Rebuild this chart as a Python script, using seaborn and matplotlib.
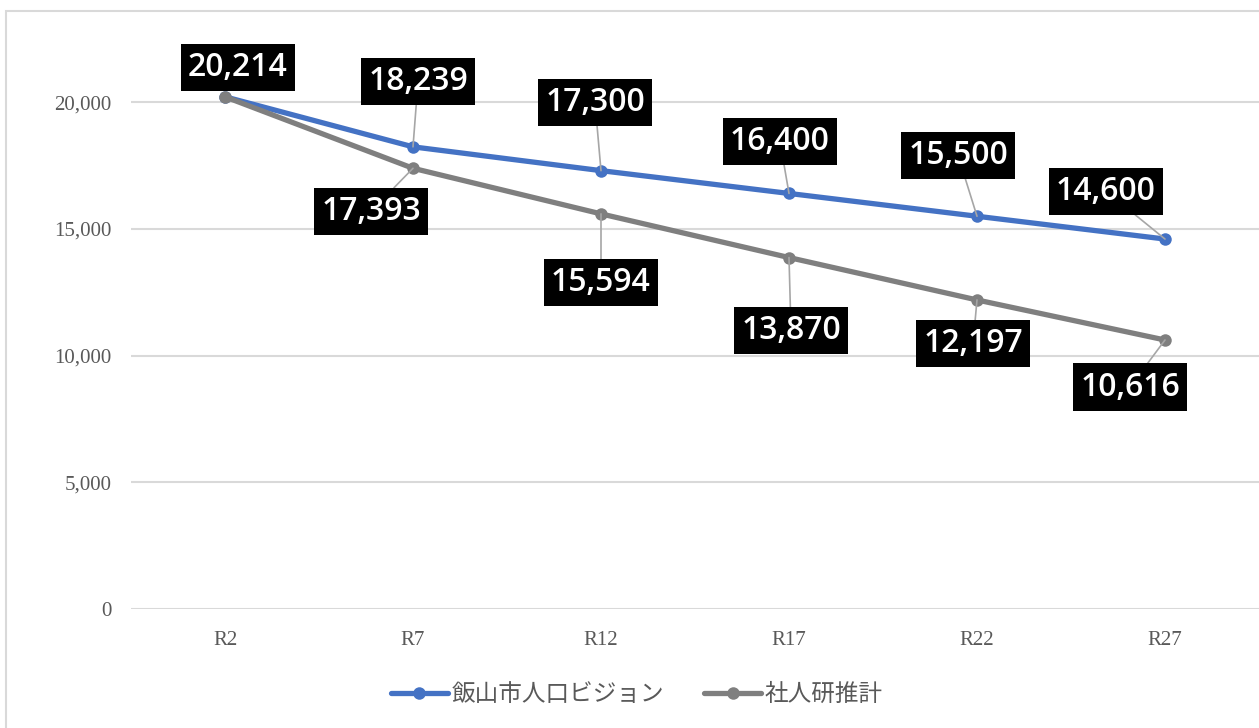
import matplotlib
matplotlib.use("Agg")
import matplotlib.pyplot as plt
from matplotlib.patches import Rectangle
from matplotlib.lines import Line2D
from matplotlib.ticker import FuncFormatter
import seaborn as sns
import pandas as pd

# data
years = ["R2", "R7", "R12", "R17", "R22", "R27"]
vision = [20214, 18239, 17300, 16400, 15500, 14600]
ipss = [20214, 17393, 15594, 13870, 12197, 10616]
series_names = ["飯山市人口ビジョン", "社人研推計"]
colors = {"飯山市人口ビジョン": "#4472C4", "社人研推計": "#7F7F7F"}

# label offsets in pixels (dx, dy) from each point, None = no label
vision_off = [(13, 29), (5, 65), (-6, 68), (-9, 52), (-19, 61), (-59, 48)]
ipss_off = [None, (-42, -43), (0, -69), (2, -73), (-4, -44), (-35, -47)]

df = pd.DataFrame({
    "year": years * 2,
    "value": vision + ipss,
    "series": [series_names[0]] * 6 + [series_names[1]] * 6,
})

sns.set_theme(style="white")
serif = ["Liberation Serif", "Noto Sans CJK JP"]
label_font = ["Open Sans", "DejaVu Sans"]

W, H = 1259, 728
fig = plt.figure(figsize=(W / 100, H / 100), dpi=100)
ax = fig.add_axes([131 / W, 1 - 609 / H, 1 - 131 / W, (609 - 11) / H])

sns.lineplot(data=df, x="year", y="value", hue="series", hue_order=series_names,
             palette=colors, marker="o", markersize=9, markeredgewidth=0,
             linewidth=3.8, legend=False, ax=ax, sort=False)

ax.set_xlim(-0.5, 5.5)
ax.set_ylim(0, 23600)
ax.set_yticks([0, 5000, 10000, 15000, 20000])
ax.yaxis.set_major_formatter(FuncFormatter(lambda v, p: f"{int(v):,}"))
ax.grid(axis="y", color="#D9D9D9", linewidth=1.5)
ax.set_axisbelow(True)
for s in ax.spines.values():
    s.set_visible(False)
ax.set_xlabel("")
ax.set_ylabel("")
ax.tick_params(axis="both", length=0, labelcolor="#595959", labelsize=15, pad=14)
ax.tick_params(axis="x", pad=16)
for t in ax.get_xticklabels() + ax.get_yticklabels():
    t.set_family(serif)

# data labels
for vals, offs in [(vision, vision_off), (ipss, ipss_off)]:
    for i, (v, off) in enumerate(zip(vals, offs)):
        if off is None:
            continue
        arrow = dict(arrowstyle="-", color="#A6A6A6", lw=1.2, shrinkA=0, shrinkB=0)
        ax.annotate(f"{v:,}", xy=(i, v), xytext=off, textcoords="offset pixels",
                    ha="center", va="center", color="white", fontsize=23,
                    fontweight="semibold", family=label_font,
                    bbox=dict(boxstyle="square,pad=0.22", fc="black", ec="none"),
                    arrowprops=arrow if i > 0 else None)

# legend
handles = [Line2D([0], [0], color=colors[n], lw=3.8, marker="o", markersize=9,
                  markeredgewidth=0) for n in series_names]
fig.legend(handles, series_names, loc="center", bbox_to_anchor=(637 / W, 1 - 695 / H),
           ncol=2, frameon=False, handlelength=2.4, handletextpad=0.17,
           columnspacing=1.7, prop={"family": serif, "size": 17},
           labelcolor="#595959")

# outer chart border
fig.patches.append(Rectangle((6 / W, -0.1), 2, 1 - 11 / H + 0.1, transform=fig.transFigure,
                             fill=False, edgecolor="#D9D9D9", linewidth=1.5))

fig.savefig("out.png", dpi=100, facecolor="white")
